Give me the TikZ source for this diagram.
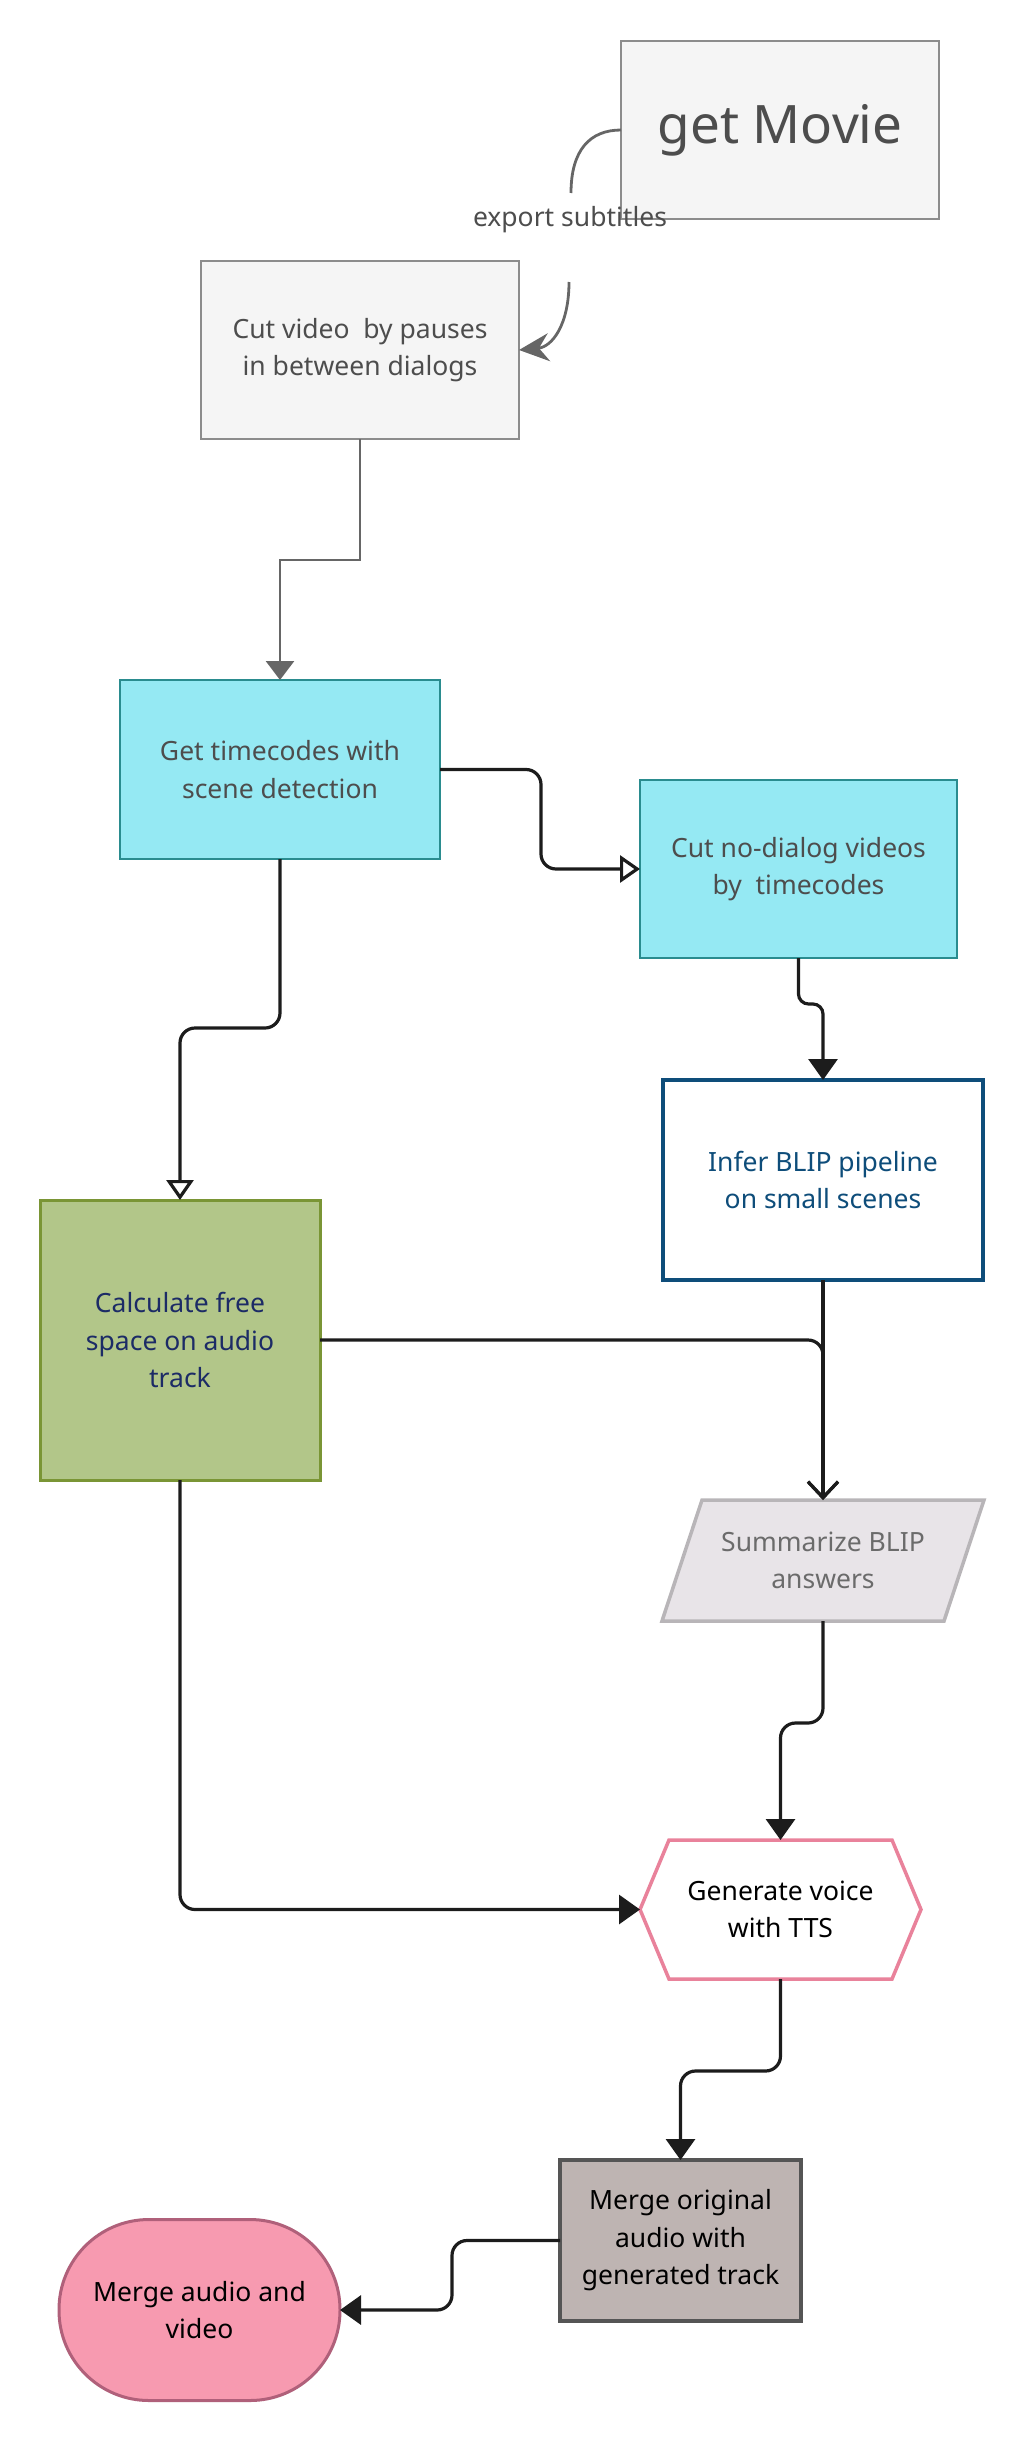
\documentclass[tikz,border=0pt]{standalone}
\usepackage{fontspec}
\setmainfont{Noto Sans}
\usetikzlibrary{arrows.meta}
\definecolor{gfill}{HTML}{F5F5F5}
\definecolor{gborder}{HTML}{8C8C8C}
\definecolor{gtext}{HTML}{4D4D4D}
\definecolor{cfill}{HTML}{95E9F3}
\definecolor{cborder}{HTML}{2A8C8F}
\definecolor{grfill}{HTML}{B2C689}
\definecolor{grborder}{HTML}{7A9535}
\definecolor{grtext}{HTML}{1C2B66}
\definecolor{bborder}{HTML}{0E4D7A}
\definecolor{sfill}{HTML}{E8E4E8}
\definecolor{sborder}{HTML}{B8B5B8}
\definecolor{stext}{HTML}{6B6B6B}
\definecolor{hborder}{HTML}{E9829B}
\definecolor{mofill}{HTML}{BEB4B2}
\definecolor{moborder}{HTML}{555555}
\definecolor{mafill}{HTML}{F79AB0}
\definecolor{maborder}{HTML}{B0607A}
\definecolor{lineblack}{HTML}{1C1C1C}
\definecolor{linegray}{HTML}{666666}
\tikzset{
  txt/.style={font=\fontsize{26.5}{37.5}\selectfont, align=center, inner sep=0pt, outer sep=0pt},
  box/.style={txt, rectangle, draw},
  graybox/.style={box, fill=gfill, draw=gborder, line width=2pt, text=gtext},
  cyanbox/.style={box, fill=cfill, draw=cborder, line width=2pt, text=gtext},
  greenbox/.style={box, fill=grfill, draw=grborder, line width=3pt, text=grtext},
  bluebox/.style={box, fill=white, draw=bborder, line width=3.5pt, text=bborder},
  mobox/.style={box, fill=mofill, draw=moborder, line width=4pt, text=black},
  mabox/.style={box, fill=mafill, draw=maborder, line width=3pt, text=black, rounded corners=90pt},
  conn/.style={draw=lineblack, line width=3.2pt, rounded corners=15pt},
  gconn/.style={draw=linegray, line width=2.8pt},
  tri/.style={-{Triangle[length=21pt,width=29pt]}},
  otri/.style={-{Triangle[open,length=20pt,width=27pt]}},
  barb/.style={-{Straight Barb[length=16pt,width=30pt]}},
}
\begin{document}
\begin{tikzpicture}[x=1pt,y=-1pt]
\useasboundingbox (0,0) rectangle (1020,2440);

% nodes
\node[graybox, minimum width=318pt, minimum height=178pt, font=\fontsize{53}{60}\selectfont] (gm) at (780,130) {get Movie};
\node[graybox, minimum width=318pt, minimum height=178pt] (cv) at (360,350) {Cut video~ by pauses\\in between dialogs};
\node[cyanbox, minimum width=320pt, minimum height=179pt] (gt) at (280,769.5) {Get timecodes with\\scene detection};
\node[cyanbox, minimum width=317pt, minimum height=178pt] (cn) at (798.5,869) {Cut no-dialog videos\\by~ timecodes};
\node[greenbox, minimum width=280pt, minimum height=280pt] (cf) at (180,1340) {Calculate free\\space on audio\\track};
\node[bluebox, minimum width=320pt, minimum height=200pt] (ib) at (823,1180) {Infer BLIP pipeline\\on small scenes};

% parallelogram
\filldraw[fill=sfill, draw=sborder, line width=3.5pt, line join=miter] (702,1500) -- (984,1500) -- (944,1621) -- (662,1621) -- cycle;
\node[txt, text=stext, minimum width=282pt, minimum height=121pt] (sb) at (823,1560.5) {Summarize BLIP\\answers};

% hexagon
\filldraw[fill=white, draw=hborder, line width=3.5pt] (669,1840) -- (892,1840) -- (921,1909.5) -- (892,1979) -- (669,1979) -- (640,1909.5) -- cycle;
\node[txt, text=black, minimum width=281pt, minimum height=139pt] (gv) at (780.5,1909.5) {Generate voice\\with TTS};

\node[mobox, minimum width=241pt, minimum height=161pt] (mo) at (680.5,2240.5) {Merge original\\audio with\\generated track};
\node[mabox, minimum width=281pt, minimum height=181pt] (ma) at (199.5,2310) {Merge audio and\\video};

% export subtitles connector
\coordinate (c1) at (571,193);
\coordinate (c2) at (569,282);
\node[txt, text=gtext] (lbl) at (570,220) {export subtitles};
\draw[gconn] (gm.west) .. controls (590,130) and (571,150) .. (c1);
\draw[gconn, -{Stealth[length=30pt,width=28pt,inset=10pt]}] (c2) .. controls (569,325) and (552,347) .. (cv.east);

% other connectors
\draw[gconn, -{Triangle[length=19pt,width=28pt]}] (cv.south) -- ++(0,121) -| (gt.north);
\draw[conn, otri] (gt.east) -- ++(101,0) |- (cn.west);
\draw[conn, otri] (gt.south) -- ++(0,169) -| (cf.north);
\draw[conn, tri, rounded corners=10pt] (cn.south) -- ++(0,46) -| (ib.north);
\draw[conn, barb] (ib.south) -- (sb.north);
\draw[conn, barb] (cf.east) -| (sb.north);
\draw[conn, tri] (sb.south) -- ++(0,102) -| (gv.north);
\draw[conn, tri] (cf.south) |- (gv.west);
\draw[conn, tri] (gv.south) -- ++(0,92) -| (mo.north);
\draw[conn, tri] (mo.west) -- ++(-108,0) |- (ma.east);
\end{tikzpicture}
\end{document}
